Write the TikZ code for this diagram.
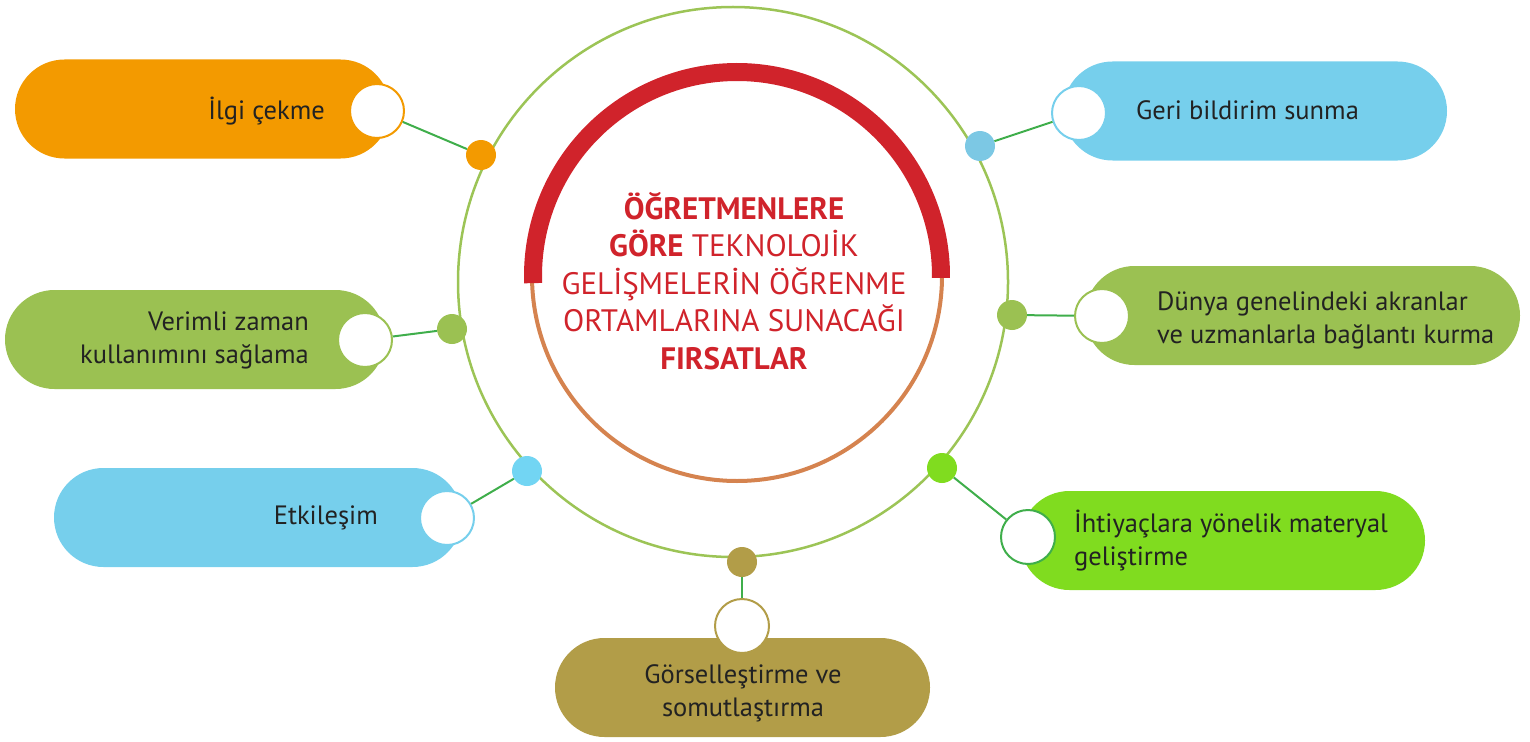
\documentclass[tikz,border=0pt]{standalone}
\usepackage{fontspec}
\setmainfont{PT Sans}
\usepackage{tikz}
\usetikzlibrary{positioning}
\definecolor{corange}{HTML}{F39A00}
\definecolor{cblue}{HTML}{76CFEC}
\definecolor{cdotblue}{HTML}{7CC8E4}
\definecolor{csky}{HTML}{72D5F3}
\definecolor{cgreen}{HTML}{9BC152}
\definecolor{clime}{HTML}{80DC1F}
\definecolor{colive}{HTML}{B29D48}
\definecolor{cring}{HTML}{9CC456}
\definecolor{clink}{HTML}{3FAE4B}
\definecolor{cred}{HTML}{D0232B}
\definecolor{ccopper}{HTML}{D5834F}
\definecolor{ink}{HTML}{222222}
\tikzset{
  pill/.style={rectangle,rounded corners=49.5pt,minimum height=99pt,inner sep=0pt},
  knob/.style={circle,fill=white,line width=2pt,minimum size=54pt,inner sep=0pt},
  dot/.style={circle,minimum size=30pt,inner sep=0pt},
  link/.style={clink,line width=2pt},
  txt/.style={font=\fontsize{26.5}{33}\selectfont,text=ink,inner sep=0pt},
}

\begin{document}
\begin{tikzpicture}[x=1pt,y=-1pt]
  \useasboundingbox (0,0) rectangle (1530,741);
  % outer ring and title
  \node[circle,draw=cring,line width=2.5pt,minimum size=550pt,inner sep=0pt] (hub) at (733,282) {};
  \node[circle,draw=ccopper,line width=4pt,minimum size=410pt,inner sep=0pt] (core) at (737,276) {};
  \draw[cred,line width=18pt] (core.center) ++(178:204) arc[start angle=178,end angle=360.5,radius=204];
  \node[align=center,text=cred,font=\fontsize{31}{37.5}\selectfont,inner sep=0pt] (title) at (734,281)
    {\textbf{ÖĞRETMENLERE}\\\textbf{GÖRE} TEKNOLOJİK\\GELİŞMELERİN ÖĞRENME\\ORTAMLARINA SUNACAĞI\\\textbf{FIRSATLAR}};
  % pills
  \node[pill,fill=corange,minimum width=375pt] (p1) at (202.5,109) {};
  \node[pill,fill=cblue,minimum width=384pt] (p2) at (1255,111) {};
  \node[pill,fill=cgreen,minimum width=380pt] (p3) at (195,339.5) {};
  \node[pill,fill=cgreen,minimum width=435pt] (p4) at (1302.5,315.5) {};
  \node[pill,fill=cblue,minimum width=408pt] (p5) at (258,517.5) {};
  \node[pill,fill=clime,minimum width=405pt] (p6) at (1222.5,540.5) {};
  \node[pill,fill=colive,minimum width=375pt] (p7) at (742.5,687.5) {};
  % knobs, dots, links
  \foreach \i/\kc/\kx/\ky/\dc/\dx/\dy in {1/corange/377/111/corange/481/155,
      2/cblue/1079/113/cdotblue/980/146, 3/cgreen/365/340/cgreen/452/329,
      4/cgreen/1102/316/cgreen/1012/315, 5/cblue/447/518/csky/527/471,
      6/clink/1028/537/clime/942/468, 7/colive/742/626/colive/742/562} {
    \node[knob,draw=\kc] (k\i) at (\kx,\ky) {};
    \node[dot,fill=\dc] (d\i) at (\dx,\dy) {};
    \draw[link] (k\i) -- (d\i);
  }
  % labels
  \node[txt,anchor=east] (t1) at (325,111) {İlgi çekme};
  \node[txt,anchor=west] (t2) at (1136,110) {Geri bildirim sunma};
  \node[txt,anchor=east,align=right] (t3) at (309,340) {Verimli zaman\\kullanımını sağlama};
  \node[txt,anchor=west,align=left] (t4) at (1157,320) {Dünya genelindeki akranlar\\ve uzmanlarla bağlantı kurma};
  \node[txt,anchor=east] (t5) at (378,518) {Etkileşim};
  \node[txt,anchor=west,align=left] (t6) at (1074,541) {İhtiyaçlara yönelik materyal\\geliştirme};
  \node[txt,align=center] (t7) at (743,693) {Görselleştirme ve\\somutlaştırma};
\end{tikzpicture}
\end{document}
